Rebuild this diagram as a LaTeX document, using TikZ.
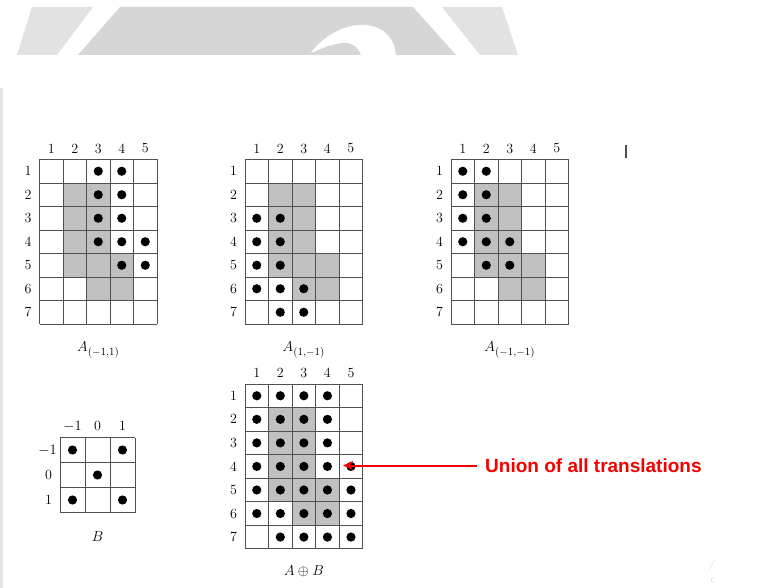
\documentclass[tikz,border=0pt]{standalone}
\usepackage{fontspec}
\newfontfamily\arialfont{Liberation Sans}
\usetikzlibrary{arrows.meta}
\definecolor{gridc}{RGB}{80,80,80}
\definecolor{shadec}{RGB}{192,192,192}
\definecolor{bannerdark}{RGB}{214,214,214}
\definecolor{bannerlight}{RGB}{226,226,226}
\definecolor{edgec}{RGB}{228,228,228}
\definecolor{arrowred}{RGB}{245,0,0}
\tikzset{
  gridline/.style={draw=gridc, line width=0.9pt},
  shadecell/.style={fill=shadec},
  dotmark/.style={fill=black},
  lbl/.style={font=\fontsize{14}{16}\selectfont, inner sep=0pt},
  caplbl/.style={font=\fontsize{15}{17}\selectfont, inner sep=0pt},
  redlbl/.style={font=\arialfont\bfseries\fontsize{19}{22}\selectfont, text=arrowred, inner sep=0pt},
  redarrow/.style={draw=arrowred, line width=2pt, -{Stealth[length=10pt,width=9pt]}},
}
% #1 L, #2 T, #3 cell, #4 ncols, #5 nrows
\newcommand\gridlines[5]{%
  \foreach \kk in {0,...,#4} \draw[gridline] ({#1+\kk*#3},#2) -- ({#1+\kk*#3},{#2+#5*#3});
  \foreach \kk in {0,...,#5} \draw[gridline] (#1,{#2+\kk*#3}) -- ({#1+#4*#3},{#2+\kk*#3});
}
% #1 L, #2 T, #3 cell, #4 list row/col
\newcommand\shadecells[4]{%
  \edef\mylist{#4}%
  \foreach \rr/\cc in \mylist \fill[shadecell] ({#1+(\cc-1)*#3},{#2+(\rr-1)*#3}) rectangle ++(#3,#3);
}
\newcommand\putdots[4]{%
  \edef\mylist{#4}%
  \foreach \rr/\cc in \mylist \fill[dotmark] ({#1+(\cc-0.5)*#3},{#2+(\rr-0.5)*#3}) circle (4.6pt);
}
% #1 name, #2 L, #3 T, #4 cell
\newcommand\numlabels[4]{%
  \foreach \kk in {1,...,5} \node[lbl] (#1c\kk) at ({#2+(\kk-0.5)*#4},{#3-11}) {\kk};
  \foreach \kk in {1,...,7} \node[lbl] (#1r\kk) at ({#2-11.5},{#3+(\kk-0.5)*#4}) {\kk};
}
\def\Ashape{2/2,2/3,3/2,3/3,4/2,4/3,5/2,5/3,5/4,6/3,6/4}
\begin{document}
\begin{tikzpicture}[x=1pt,y=-1pt]
\useasboundingbox (0,0) rectangle (774,588);
% banner
\fill[bannerlight] (32,7) -- (93,7) -- (57,55) -- (17,55) -- cycle;
\fill[bannerdark] (120,7) -- (413,7) -- (456,55) -- (78,55) -- cycle;
\fill[bannerlight] (442,7) -- (502,7) -- (518,55) -- (480,55) -- cycle;
\fill[white] (311,53) .. controls (325,33) and (350,23) .. (366,25)
  .. controls (385,27) and (395,40) .. (396,55) -- (361,55)
  .. controls (358,46) and (351,42) .. (343,43)
  .. controls (330,44) and (318,50) .. (311,53) -- cycle;
\fill[edgec] (0,88) rectangle (3,588);
% grid 1: A_(-1,1)
\shadecells{39.5}{159.5}{23.5}{\Ashape}
\gridlines{39.5}{159.5}{23.5}{5}{7}
\putdots{39.5}{159.5}{23.5}{1/3,1/4,2/3,2/4,3/3,3/4,4/3,4/4,4/5,5/4,5/5}
\numlabels{ga}{39.5}{159.5}{23.5}
\node[caplbl] (capa) at (98.25,350) {$A_{(-1,1)}$};
% grid 2: A_(1,-1)
\shadecells{245}{159.5}{23.5}{\Ashape}
\gridlines{245}{159.5}{23.5}{5}{7}
\putdots{245}{159.5}{23.5}{3/1,3/2,4/1,4/2,5/1,5/2,6/1,6/2,6/3,7/2,7/3}
\numlabels{gb}{245}{159.5}{23.5}
\node[caplbl] (capb) at (303.75,350) {$A_{(1,-1)}$};
% grid 3: A_(-1,-1)
\shadecells{451}{159.5}{23.5}{\Ashape}
\gridlines{451}{159.5}{23.5}{5}{7}
\putdots{451}{159.5}{23.5}{1/1,1/2,2/1,2/2,3/1,3/2,4/1,4/2,4/3,5/2,5/3}
\numlabels{gc}{451}{159.5}{23.5}
\node[caplbl] (capc) at (509.75,350) {$A_{(-1,-1)}$};
% grid 4: A + B
\shadecells{245}{384}{23.55}{\Ashape}
\gridlines{245}{384}{23.55}{5}{7}
\putdots{245}{384}{23.55}{1/1,1/2,1/3,1/4,2/1,2/2,2/3,2/4,3/1,3/2,3/3,3/4,4/1,4/2,4/3,4/4,4/5,5/1,5/2,5/3,5/4,5/5,6/1,6/2,6/3,6/4,6/5,7/2,7/3,7/4,7/5}
\numlabels{gd}{245}{384}{23.55}
\node[caplbl] (capd) at (304,571.5) {$A\oplus B$};
% B
\gridlines{60}{437.5}{25}{3}{3}
\putdots{60}{437.5}{25}{1/1,1/3,2/2,3/1,3/3}
\node[lbl] (bc1) at (72.5,426) {$-1$};
\node[lbl] (bc2) at (97.5,426) {0};
\node[lbl] (bc3) at (122.5,426) {1};
\node[lbl] (br1) at (47.5,450) {$-1$};
\node[lbl] (br2) at (48.5,475) {0};
\node[lbl] (br3) at (48.5,500) {1};
\node[caplbl] (capB) at (97.5,536.5) {$B$};
% annotation
\node[redlbl, anchor=west] (union) at (485,465.5) {Union of all translations};
\coordinate (tip) at (343,465.5);
\draw[redarrow] ([xshift=-8pt]union.west) -- (tip);
% stray marks
\draw[gridc, line width=1.5pt] (626,145) -- (626,158);
\node[font=\fontsize{10}{12}\selectfont\itshape, text=gray!45, inner sep=0pt] (m1) at (711.5,565) {/};
\node[font=\fontsize{9}{11}\selectfont, text=gray!35, inner sep=0pt] (m2) at (713,581) {c};
\end{tikzpicture}
\end{document}
